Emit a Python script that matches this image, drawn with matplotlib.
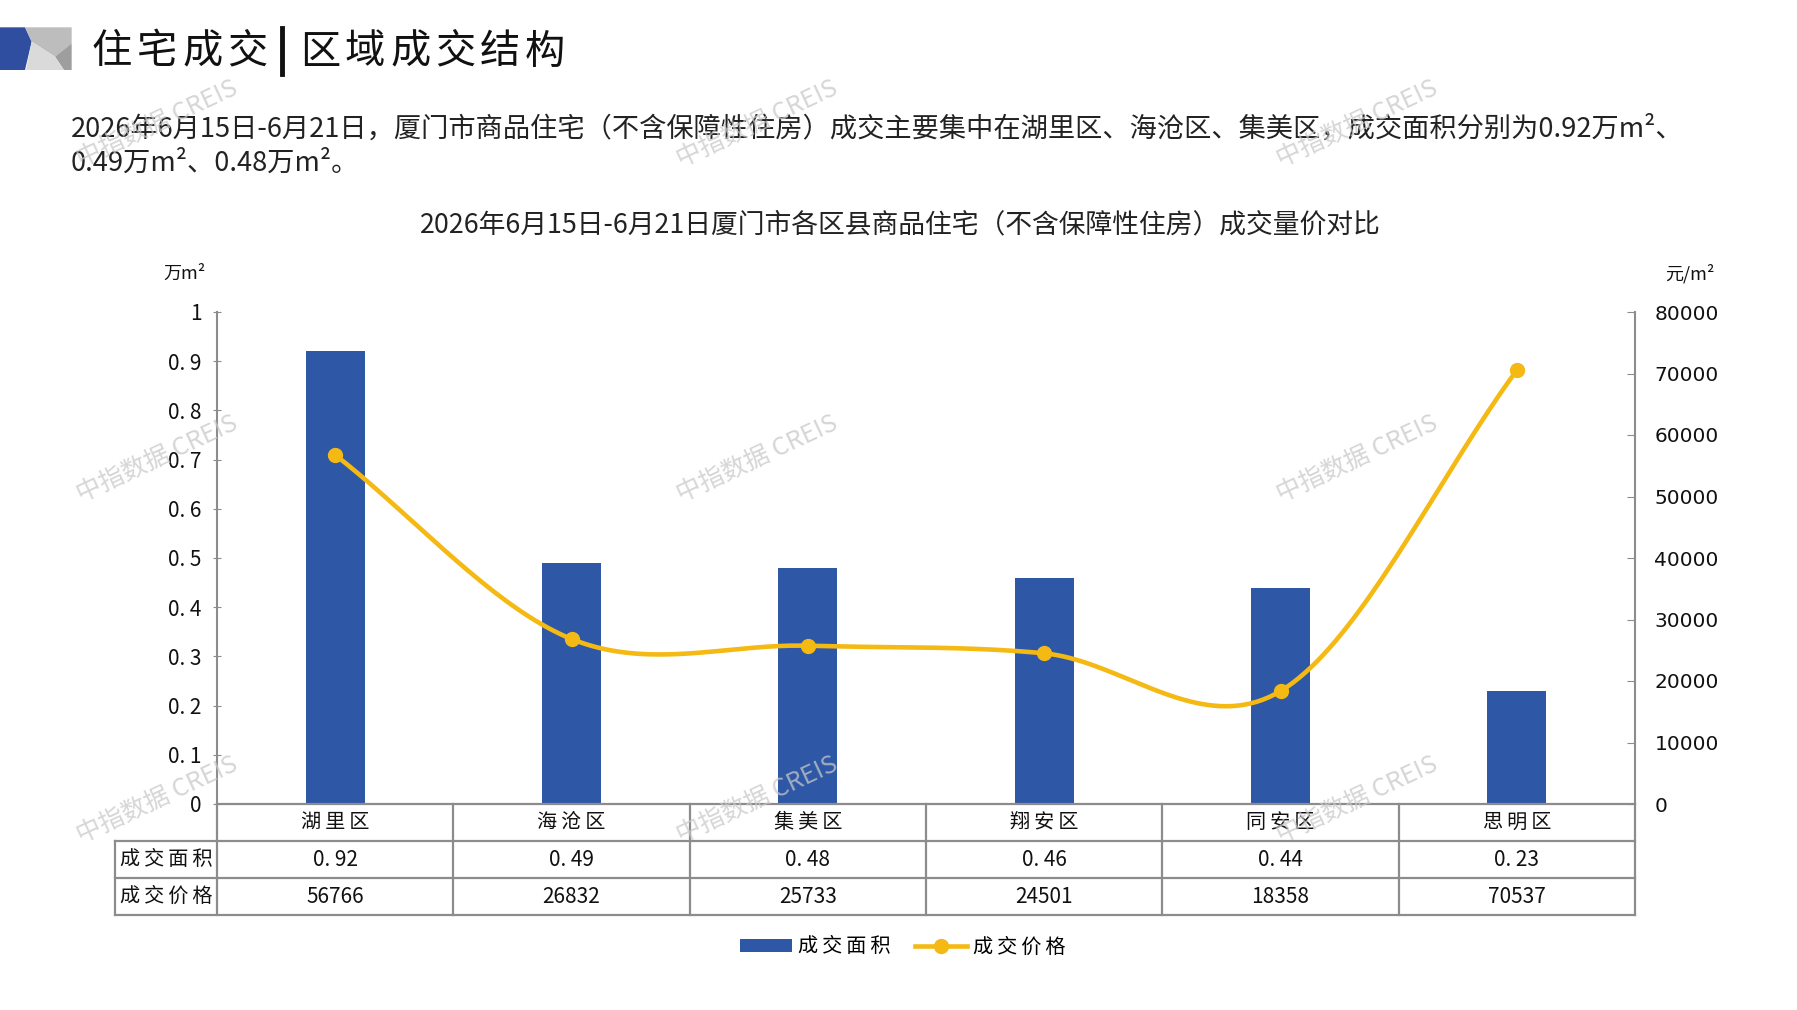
import matplotlib
matplotlib.use("Agg")
import matplotlib.pyplot as plt
from matplotlib.patches import Polygon
from matplotlib.lines import Line2D
from matplotlib.patches import Patch
import numpy as np

plt.rcParams['font.family'] = ['Noto Sans CJK SC', 'DejaVu Sans']

# ---------------- data ----------------
districts = ["湖里区", "海沧区", "集美区", "翔安区", "同安区", "思明区"]
area = [0.92, 0.49, 0.48, 0.46, 0.44, 0.23]          # 万m²
price = [56766, 26832, 25733, 24501, 18358, 70537]   # 元/m²
area_labels = ["0.92", "0.49", "0.48", "0.46", "0.44", "0.23"]
price_labels = ["56766", "26832", "25733", "24501", "18358", "70537"]
left_ticks = [0, 0.1, 0.2, 0.3, 0.4, 0.5, 0.6, 0.7, 0.8, 0.9, 1]
right_ticks = [0, 10000, 20000, 30000, 40000, 50000, 60000, 70000, 80000]
row_names = ["成交面积", "成交价格"]

BLUE = "#2E58A6"
GOLD = "#F5B914"
GRID = "#8C8C8C"

W, H = 1797, 1010
fig = plt.figure(figsize=(W / 100, H / 100), dpi=100)
fx = lambda p: p / W
fy = lambda p: 1 - p / H

# ---------------- logo ----------------
def zp(pts):
    return [(fx(x / 3), fy(y / 3 + 20)) for x, y in pts]

fig.patches.append(Polygon(zp([(0, 22), (75, 22), (95, 65), (75, 150), (0, 150)]),
                           closed=True, transform=fig.transFigure, fc="#2F4EA0", ec="none"))
fig.patches.append(Polygon(zp([(75, 22), (215, 22), (215, 70), (165, 110), (95, 65)]),
                           closed=True, transform=fig.transFigure, fc="#BDBDBD", ec="none"))
fig.patches.append(Polygon(zp([(215, 70), (215, 150), (192, 150), (165, 110)]),
                           closed=True, transform=fig.transFigure, fc="#9E9E9E", ec="none"))
fig.patches.append(Polygon(zp([(95, 65), (165, 110), (192, 150), (78, 150)]),
                           closed=True, transform=fig.transFigure, fc="#DADADA", ec="none"))

# ---------------- heading ----------------
head1 = "住宅成交"
head2 = "区域成交结构"
pitch = 45
for i, ch in enumerate(head1):
    fig.text(fx(92 + i * pitch), fy(52), ch, fontsize=29, va="center", ha="left", color="#111111")
fig.add_artist(Line2D([fx(282), fx(282)], [fy(28), fy(74)], color="#111111", lw=3.5,
                      transform=fig.transFigure))
for i, ch in enumerate(head2):
    fig.text(fx(300 + i * pitch), fy(52), ch, fontsize=29, va="center", ha="left", color="#111111")

para1 = ("2026年6月15日-6月21日，厦门市商品住宅（不含保障性住房）成交主要集中在湖里区、"
         "海沧区、集美区，成交面积分别为0.92万m²、")
para2 = "0.49万m²、0.48万m²。"
fig.text(fx(71), fy(129), para1, fontsize=19.6, va="center", ha="left", color="#222222")
fig.text(fx(71), fy(163), para2, fontsize=19.6, va="center", ha="left", color="#222222")

fig.text(fx(900), fy(225), "2026年6月15日-6月21日厦门市各区县商品住宅（不含保障性住房）成交量价对比",
         fontsize=19.3, va="center", ha="center", color="#222222")

# ---------------- axes ----------------
L, R, T, B = 217, 1635, 312, 804
ax = fig.add_axes([fx(L), fy(B), fx(R) - fx(L), fy(T) - fy(B)])
ax2 = ax.twinx()

x = np.arange(len(districts))
ax.bar(x, area, width=0.25, color=BLUE, zorder=2)
ax.set_xlim(-0.5, len(districts) - 0.5)
ax.set_ylim(0, 1)
ax.set_yticks(left_ticks)
ax.set_yticklabels([("%g" % v).replace(".", ". ") for v in left_ticks], fontsize=15)
ax.set_xticks([])

# smooth line (Catmull-Rom through the data points)
px = np.array(x, dtype=float)
py = np.array(price, dtype=float)
P = np.concatenate([[2 * py[0] - py[1]], py, [2 * py[-1] - py[-2]]])
sx, sy = [], []
for i in range(len(py) - 1):
    t = np.linspace(0, 1, 40)
    p0, p1, p2, p3 = P[i], P[i + 1], P[i + 2], P[i + 3]
    m1 = (p2 - p0) / 2
    m2 = (p3 - p1) / 2
    h00 = 2 * t**3 - 3 * t**2 + 1
    h10 = t**3 - 2 * t**2 + t
    h01 = -2 * t**3 + 3 * t**2
    h11 = t**3 - t**2
    sy.extend(h00 * p1 + h10 * m1 + h01 * p2 + h11 * m2)
    sx.extend(px[i] + t)
ax2.plot(sx, sy, color=GOLD, lw=3.3, zorder=3, solid_capstyle="round")
ax2.plot(px, py, "o", color=GOLD, ms=10, zorder=4)
ax2.set_ylim(0, 80000)
ax2.set_yticks(right_ticks)
ax2.set_yticklabels([str(v) for v in right_ticks], fontsize=14.5, family=["DejaVu Sans"])

for a in (ax, ax2):
    a.spines["top"].set_visible(False)
    a.spines["bottom"].set_visible(False)
ax2.spines["left"].set_visible(False)
ax.spines["right"].set_visible(False)
ax.spines["left"].set_color(GRID)
ax.spines["left"].set_linewidth(1.5)
ax2.spines["right"].set_color(GRID)
ax2.spines["right"].set_linewidth(1.5)
ax.tick_params(axis="y", direction="inout", length=6, color=GRID, pad=8, labelcolor="#111111")
ax2.tick_params(axis="y", direction="in", length=6, color=GRID, pad=14, labelcolor="#111111")

# ---------------- data table ----------------
tr = ax.get_xaxis_transform()
rh = 32.3 * 1.1475 / (B - T)       # row height in axes fraction
xl = -0.5 - (L - 115) / ((R - L) / len(districts))
n = len(districts)
kw = dict(color=GRID, lw=1.6, transform=tr, clip_on=False, zorder=5)
ax.plot([-0.5, n - 0.5], [0, 0], **kw)
for k in (1, 2, 3):
    ax.plot([xl, n - 0.5], [-k * rh, -k * rh], **kw)
ax.plot([xl, xl], [-rh, -3 * rh], **kw)
for j in range(n + 1):
    ax.plot([j - 0.5, j - 0.5], [0, -3 * rh], **kw)

def spaced(s):
    return "\u2009".join(s)

for j, d in enumerate(districts):
    ax.text(j, -0.5 * rh, spaced(d), transform=tr, ha="center", va="center", fontsize=14.5,
            color="#111111")
    ax.text(j, -1.5 * rh, area_labels[j].replace(".", ". "), transform=tr, ha="center",
            va="center", fontsize=15, color="#111111")
    ax.text(j, -2.5 * rh, price_labels[j], transform=tr, ha="center", va="center",
            fontsize=15, color="#111111")
for k, nm in enumerate(row_names):
    ax.text((xl - 0.5) / 2, -(1.5 + k) * rh, spaced(nm), transform=tr, ha="center", va="center",
            fontsize=14.5, color="#111111")

# units
fig.text(fx(184), fy(274), "万m²", fontsize=13, ha="center", va="center", color="#111111")
fig.text(fx(1690), fy(274), "元/m²", fontsize=13, ha="center", va="center", color="#111111")

# legend
handles = [Patch(facecolor=BLUE, edgecolor="none"),
           Line2D([0], [0], color=GOLD, lw=3.3, marker="o", ms=10)]
fig.legend(handles, [spaced("成交面积"), spaced("成交价格")], loc="center",
           bbox_to_anchor=(fx(903), fy(947)),
           ncol=2, frameon=False, fontsize=14.5, handlelength=2.6, handleheight=0.6,
           columnspacing=1.2, handletextpad=0.3)

# watermarks
for wx in (157, 757, 1357):
    for wy in (124, 459, 800):
        fig.text(fx(wx), fy(wy), "中指数据 CREIS", fontsize=18, rotation=25, color="#C8C8C8",
                 alpha=0.75, ha="center", va="center", zorder=10)

fig.savefig("out.png", dpi=100)
